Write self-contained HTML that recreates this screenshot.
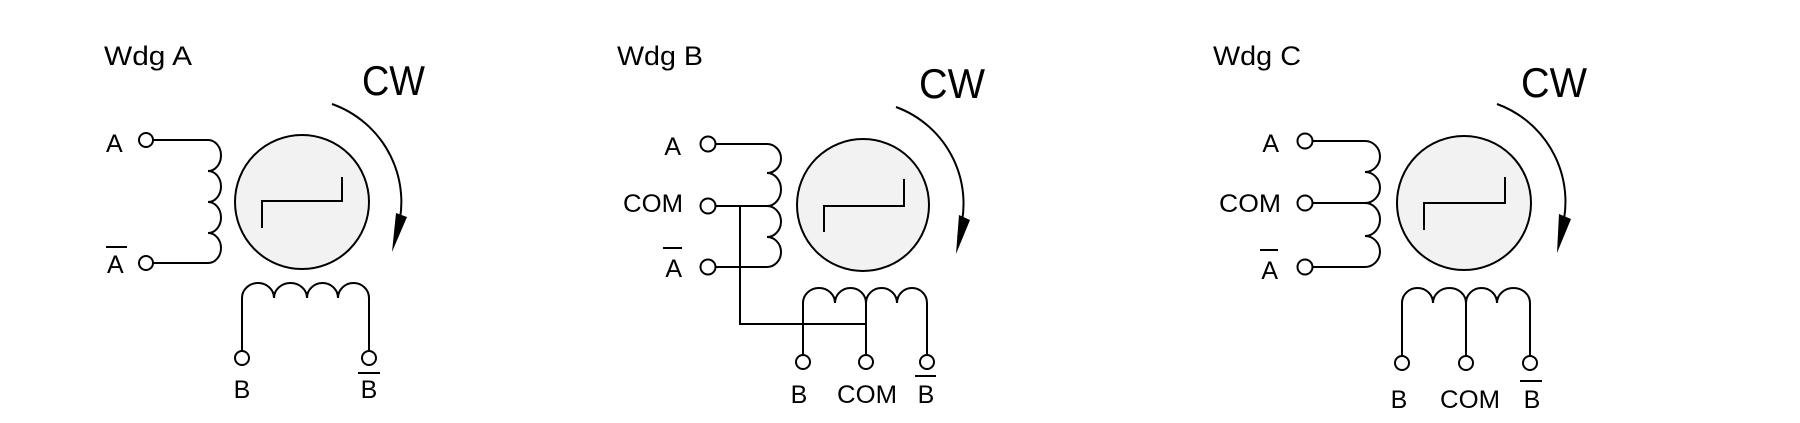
<!DOCTYPE html>
<html><head><meta charset="utf-8"><style>
html,body{margin:0;padding:0;background:#fff;}
svg{display:block;}
text{font-family:"Liberation Sans",sans-serif;fill:#000;}
</style></head><body>
<svg width="1800" height="423" viewBox="0 0 1800 423" xmlns="http://www.w3.org/2000/svg">
<g fill="none" stroke="#000" stroke-width="2">
<!-- Diagram A -->
<circle cx="302" cy="202" r="67" fill="#f2f2f2"/>
<polyline points="262,228 262,201 342,201 342,177"/>
<path d="M332,104 A104,104 0 0 1 396,235"/>
<path d="M153,140 H208 A13,15.5 0 0 1 208,171 A13,15.5 0 0 1 208,202 A13,15.5 0 0 1 208,233 A13,15 0 0 1 208,263 H153"/>
<circle cx="146" cy="140" r="7" fill="#fff"/>
<circle cx="146" cy="263" r="7" fill="#fff"/>
<path d="M242,351 V298 A16,15 0 0 1 274,298 A16.5,15 0 0 1 307,298 A15.5,15 0 0 1 338,298 A15.5,15 0 0 1 369,298 V351"/>
<circle cx="242" cy="358" r="7" fill="#fff"/>
<circle cx="369" cy="358" r="7" fill="#fff"/>
<line x1="106" y1="247" x2="127" y2="247"/>
<line x1="358" y1="373" x2="380" y2="373"/>

<!-- Diagram B -->
<circle cx="863" cy="205" r="66" fill="#f2f2f2"/>
<polyline points="824,232 824,206 904,206 904,179"/>
<path d="M896,107 A103,103 0 0 1 958,237"/>
<path d="M715,144 H767 A14,14.5 0 0 1 767,173 A14,16.5 0 0 1 767,206 A14,15.5 0 0 1 767,237 A14,15 0 0 1 767,267 H715"/>
<line x1="715" y1="206" x2="767" y2="206"/>
<polyline points="740,206 740,324 866,324"/>
<path d="M803,355 V303 A16,15 0 0 1 835,303 A15.5,15 0 0 1 866,303 A15.5,15 0 0 1 897,303 A15,15 0 0 1 927,303 V355"/>
<line x1="866" y1="303" x2="866" y2="355"/>
<circle cx="708" cy="144" r="7.5" fill="#fff"/>
<circle cx="708" cy="206" r="7.5" fill="#fff"/>
<circle cx="708" cy="267" r="7.5" fill="#fff"/>
<circle cx="803" cy="362" r="7" fill="#fff"/>
<circle cx="866" cy="362" r="7" fill="#fff"/>
<circle cx="927" cy="362" r="7" fill="#fff"/>
<line x1="663" y1="248" x2="682" y2="248"/>
<line x1="915" y1="376" x2="936" y2="376"/>

<!-- Diagram C -->
<circle cx="1464" cy="203" r="67" fill="#f2f2f2"/>
<polyline points="1424,230 1424,203 1505,203 1505,177"/>
<path d="M1497,104 A104,104 0 0 1 1560,235"/>
<path d="M1312,141 H1365 A15,15.5 0 0 1 1365,172 A15,15.5 0 0 1 1365,203 A15,16.5 0 0 1 1365,236 A15,15.5 0 0 1 1365,267 H1312"/>
<line x1="1312" y1="203" x2="1365" y2="203"/>
<path d="M1402,356 V303 A15.5,15 0 0 1 1433,303 A16.5,15 0 0 1 1466,303 A15.5,15 0 0 1 1497,303 A16.5,15 0 0 1 1530,303 V356"/>
<line x1="1466" y1="303" x2="1466" y2="356"/>
<circle cx="1305" cy="141" r="7.5" fill="#fff"/>
<circle cx="1305" cy="203" r="7.5" fill="#fff"/>
<circle cx="1305" cy="267" r="7.5" fill="#fff"/>
<circle cx="1402" cy="363" r="7" fill="#fff"/>
<circle cx="1466" cy="363" r="7" fill="#fff"/>
<circle cx="1530" cy="363" r="7" fill="#fff"/>
<line x1="1260" y1="250" x2="1278" y2="250"/>
<line x1="1520" y1="381" x2="1542" y2="381"/>
</g>
<g fill="#000">
<polygon points="392,252 396,213 407,217"/>
<polygon points="956,254 959,215 970,220"/>
<polygon points="1557,253 1559,214 1571,219"/>
</g>
<!-- Text -->
<text x="104" y="65" font-size="27" textLength="88" lengthAdjust="spacingAndGlyphs">Wdg A</text>
<text x="362" y="95" font-size="42" textLength="63" lengthAdjust="spacingAndGlyphs">CW</text>
<text x="106" y="152" font-size="25">A</text>
<text x="107" y="273" font-size="25">A</text>
<text x="242" y="398" font-size="25" text-anchor="middle">B</text>
<text x="369" y="398" font-size="25" text-anchor="middle">B</text>

<text x="617" y="65" font-size="27" textLength="86" lengthAdjust="spacingAndGlyphs">Wdg B</text>
<text x="919" y="98" font-size="42" textLength="66" lengthAdjust="spacingAndGlyphs">CW</text>
<text x="681" y="155" font-size="25" text-anchor="end">A</text>
<text x="683" y="212" font-size="25" text-anchor="end" textLength="60" lengthAdjust="spacingAndGlyphs">COM</text>
<text x="682" y="277" font-size="25" text-anchor="end">A</text>
<text x="799" y="403" font-size="25" text-anchor="middle">B</text>
<text x="867" y="403" font-size="25" text-anchor="middle" textLength="60" lengthAdjust="spacingAndGlyphs">COM</text>
<text x="926" y="403" font-size="25" text-anchor="middle">B</text>

<text x="1213" y="65" font-size="27" textLength="88" lengthAdjust="spacingAndGlyphs">Wdg C</text>
<text x="1521" y="97" font-size="42" textLength="66" lengthAdjust="spacingAndGlyphs">CW</text>
<text x="1279" y="152" font-size="25" text-anchor="end">A</text>
<text x="1281" y="212" font-size="25" text-anchor="end" textLength="62" lengthAdjust="spacingAndGlyphs">COM</text>
<text x="1278" y="279" font-size="25" text-anchor="end">A</text>
<text x="1399" y="408" font-size="25" text-anchor="middle">B</text>
<text x="1470" y="408" font-size="25" text-anchor="middle" textLength="60" lengthAdjust="spacingAndGlyphs">COM</text>
<text x="1532" y="408" font-size="25" text-anchor="middle">B</text>
</svg>
</body></html>
